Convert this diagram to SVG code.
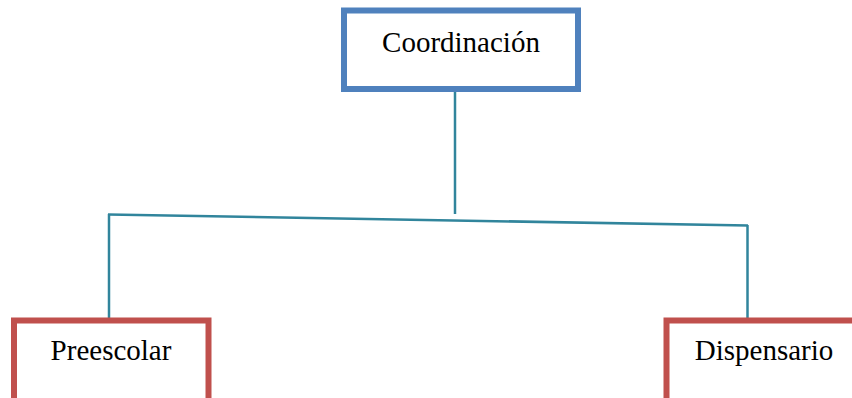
<svg xmlns="http://www.w3.org/2000/svg" width="852" height="398" viewBox="0 0 852 398">
  <style>
    .box { fill: #ffffff; stroke-width: 6; }
    .top { stroke: #4F81BD; }
    .unit { stroke: #C0504D; }
    .label { font-size: 29px; fill: #000000; text-anchor: middle; }
    .link { fill: none; stroke: #31859C; stroke-width: 2.5; }
  </style>
  <rect width="852" height="398" fill="#ffffff"/>
  <g id="connectors">
    <line class="link" x1="455" y1="92" x2="455" y2="214"/>
    <line class="link" x1="108" y1="214.5" x2="748" y2="225.5"/>
    <line class="link" x1="109" y1="214" x2="109" y2="318"/>
    <line class="link" x1="747.5" y1="225" x2="747.5" y2="318"/>
  </g>
  <g id="coordinacion">
    <rect class="box top" x="344" y="10.5" width="234" height="78.5"/>
    <text class="label" font-family="'Liberation Serif', 'DejaVu Serif', serif" x="461" y="52">Coordinación</text>
  </g>
  <g id="preescolar">
    <rect class="box unit" x="14" y="320.5" width="194.5" height="90"/>
    <text class="label" font-family="'Liberation Serif', 'DejaVu Serif', serif" x="111" y="360">Preescolar</text>
  </g>
  <g id="dispensario">
    <rect class="box unit" x="666.5" y="320.5" width="195" height="90"/>
    <text class="label" font-family="'Liberation Serif', 'DejaVu Serif', serif" x="764" y="360">Dispensario</text>
  </g>
</svg>
